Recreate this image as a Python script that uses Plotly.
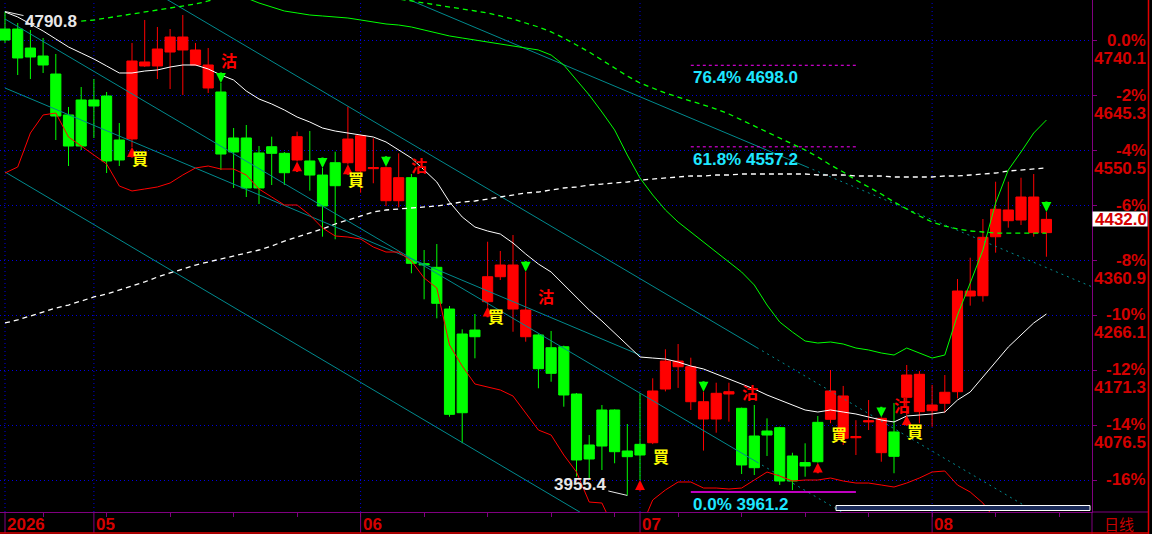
import plotly.graph_objects as go

# ---------------- data ----------------
idx = list(range(83))
opens = [4760.6,4760.6,4727.8,4714.0,4682.9,4612.2,4638.1,4638.1,4645.0,4569.0,
         4570.8,4696.8,4696.8,4720.9,4724.4,4698.5,4658.8,4651.9,4572.5,4572.5,
         4546.6,4557.4,4546.0,4534.5,4532.8,4508.5,4529.8,4529.8,4515.5,4519.5,
         4464.2,4464.2,4504.0,4355.5,4349.2,4277.2,4234.1,4240.9,4289.9,4333.0,
         4277.2,4229.4,4232.4,4210.4,4212.1,4130.5,4042.5,4102.9,4102.9,4032.1,
         4043.6,4046.4,4139.1,4177.6,4117.2,4087.3,4087.3,4130.5,4105.8,4058.0,
         4066.6,4072.4,4023.5,4012.1,4081.6,4086.8,4054.0,4055.0,4082.3,4029.2,
         4065.0,4124.8,4100.0,4101.7,4114.5,4134.5,4299.7,4300.2,4402.0,4429.7,
         4430.9,4409.1,4409.1]
highs = [4790.8,4771.0,4758.9,4745.1,4717.5,4626.0,4660.5,4674.3,4651.9,4598.3,
         4736.5,4776.2,4764.1,4760.6,4784.8,4736.5,4727.8,4667.4,4589.7,4594.9,
         4558.6,4574.7,4548.3,4583.4,4584.5,4520.7,4548.8,4626.5,4578.0,4571.9,
         4523.0,4546.0,4510.3,4379.1,4389.4,4282.4,4242.2,4268.6,4393.4,4377.4,
         4405.0,4341.6,4234.0,4239.3,4214.0,4132.2,4059.7,4111.5,4104.0,4078.7,
         4131.7,4157.6,4207.7,4216.8,4193.2,4134.5,4150.0,4150.0,4107.0,4111.5,
         4088.5,4074.0,4029.1,4045.4,4092.5,4171.9,4144.4,4085.3,4120.1,4090.2,
         4115.0,4180.6,4170.1,4146.2,4163.3,4329.0,4365.8,4432.6,4497.0,4497.0,
         4503.9,4510.3,4444.7]
lows = [4736.5,4681.2,4674.3,4684.7,4569.0,4524.1,4551.7,4572.5,4512.0,4524.1,
        4556.9,4695.1,4674.3,4657.0,4646.7,4696.8,4650.2,4517.2,4486.2,4470.6,
        4458.5,4491.3,4491.3,4532.0,4481.5,4402.1,4397.6,4527.0,4478.0,4494.3,
        4455.0,4452.8,4338.9,4294.0,4261.2,4091.3,4045.5,4192.1,4281.2,4327.3,
        4238.0,4220.8,4140.4,4151.7,4108.6,3988.0,3985.4,3999.3,4010.9,3955.4,
        3982.0,4044.0,4135.0,4141.0,4102.9,4032.8,4063.7,4082.7,3992.4,3990.6,
        4023.5,3973.4,3964.7,3987.7,4012.0,4080.0,4042.4,4025.2,4068.3,4013.6,
        3993.7,4094.0,4080.0,4074.0,4098.2,4123.0,4283.0,4289.9,4374.5,4417.6,
        4422.3,4402.1,4367.5]
closes = [4741.6,4710.6,4712.3,4698.5,4610.4,4558.6,4558.6,4627.7,4532.8,4534.5,
          4705.4,4703.7,4726.1,4746.8,4746.8,4724.4,4698.5,4544.8,4548.3,4486.2,
          4486.2,4546.0,4512.5,4574.7,4508.5,4455.1,4490.1,4570.7,4576.4,4521.5,
          4521.2,4504.0,4356.1,4353.5,4287.1,4095.4,4098.2,4229.4,4333.0,4353.2,
          4353.2,4275.5,4174.2,4166.2,4128.8,4016.6,4018.3,4040.7,4030.9,4022.3,
          4025.2,4135.7,4187.4,4187.4,4177.6,4117.2,4131.7,4134.5,4008.0,4003.3,
          4059.7,3980.3,3980.3,4006.2,4013.6,4135.7,4127.1,4057.0,4084.3,4088.5,
          4022.9,4163.3,4164.5,4111.5,4133.5,4308.3,4308.3,4401.0,4449.4,4448.2,
          4470.6,4470.6,4432.0]

ma_short = [4790.0,4781.4,4769.3,4757.2,4743.4,4729.6,4719.2,4708.8,4696.8,4684.7,
            4684.7,4688.1,4689.9,4695.0,4698.5,4698.5,4691.6,4681.2,4672.6,4653.6,
            4639.8,4631.2,4620.8,4608.7,4600.1,4589.7,4584.5,4581.1,4577.6,4574.2,
            4565.6,4551.7,4537.9,4517.2,4496.5,4462.0,4436.1,4418.8,4411.9,4406.7,
            4391.2,4372.2,4354.9,4341.1,4318.7,4296.2,4275.5,4256.5,4235.8,4215.1,
            4194.4,4192.6,4190.9,4185.7,4178.8,4173.7,4165.0,4156.4,4147.8,4139.1,
            4128.8,4120.1,4111.5,4102.9,4099.4,4102.9,4099.4,4096.0,4090.8,4085.6,
            4082.2,4092.5,4094.2,4096.0,4099.4,4120.1,4134.0,4159.8,4185.7,4211.6,
            4232.4,4253.1,4268.6]
lower_band = [4512.0,4522.4,4581.1,4612.2,4615.6,4574.2,4558.6,4543.1,4527.6,4489.6,
              4481.0,4484.4,4487.9,4494.8,4508.6,4520.7,4524.1,4518.9,4518.9,4508.6,
              4484.4,4470.6,4456.8,4456.8,4439.5,4417.1,4403.3,4401.5,4398.1,4384.3,
              4375.6,4375.6,4360.1,4330.8,4313.5,4215.1,4178.8,4147.8,4142.6,4137.4,
              4127.0,4097.7,4068.3,4059.7,4025.2,3995.8,3944.0,3942.3,3895.7,3878.4,
              3895.7,3947.5,3964.8,3978.6,3978.6,3968.2,3968.2,3966.5,3968.2,3982.0,
              3995.8,3988.9,3980.3,3982.0,3982.0,3985.5,3980.3,3976.8,3976.8,3973.4,
              3969.9,3976.8,3985.5,3995.8,3997.6,3973.4,3961.3,3942.3,3913.0,3895.7,
              3878.4,3869.8,3861.2]
upper_band = [4974.7,4966.1,4957.4,4948.8,4940.2,4931.5,4922.9,4914.3,4905.7,4897.0,
              4888.4,4879.8,4871.1,4862.5,4853.9,4845.2,4836.7,4828.0,4821.1,4814.2,
              4805.5,4798.6,4791.7,4788.3,4784.8,4783.1,4781.3,4779.6,4776.2,4772.7,
              4769.3,4767.5,4764.1,4758.9,4753.7,4748.6,4745.1,4741.6,4738.2,4734.7,
              4731.3,4727.8,4724.4,4715.7,4698.5,4672.6,4646.7,4617.3,4586.3,4543.1,
              4503.4,4474.1,4448.2,4427.4,4410.2,4392.9,4375.6,4358.4,4341.1,4318.7,
              4284.1,4254.8,4237.5,4222.0,4218.5,4220.3,4216.8,4209.9,4206.5,4201.3,
              4197.8,4209.9,4201.3,4192.6,4197.8,4266.9,4322.1,4379.1,4460.2,4517.2,
              4548.3,4581.1,4603.5]
ma_long = [4253.1,4258.3,4265.2,4272.1,4279.0,4284.1,4291.1,4298.0,4303.1,4310.0,
           4316.9,4323.9,4332.5,4339.4,4346.3,4353.2,4358.4,4363.6,4368.7,4373.9,
           4379.1,4386.0,4394.6,4401.5,4408.4,4415.4,4424.0,4430.9,4437.8,4444.7,
           4448.2,4449.9,4451.6,4453.3,4455.1,4458.5,4462.0,4463.7,4467.1,4470.6,
           4474.1,4477.5,4479.2,4482.7,4486.1,4487.9,4491.3,4493.0,4494.8,4496.5,
           4499.9,4501.7,4503.4,4505.1,4506.9,4506.9,4508.6,4508.6,4510.3,4510.3,
           4510.3,4510.3,4510.3,4510.3,4508.6,4508.6,4508.6,4506.9,4506.9,4506.9,
           4505.1,4505.1,4505.1,4505.1,4506.9,4506.9,4508.6,4510.3,4512.0,4515.5,
           4517.2,4518.9,4520.7]
upper_dash = [None,None,None,None,None,None,4774.4,4776.2,4779.6,4783.1,
              4786.5,4790.0,4793.4,4796.9,4800.3,4803.8,4809.0,4815.9,4822.8,4828.0,
              4831.4,4831.4,4831.4,4831.4,4831.4,4831.4,4831.4,4831.4,4828.0,4822.8,
              4817.6,4812.4,4809.0,4805.5,4802.1,4798.6,4795.2,4791.7,4788.3,4783.1,
              4777.9,4771.0,4764.1,4755.5,4745.1,4733.0,4720.9,4707.1,4693.3,4679.5,
              4667.4,4658.8,4650.2,4643.2,4636.3,4629.4,4622.5,4613.9,4603.5,4593.2,
              4582.8,4572.5,4562.1,4551.7,4539.7,4525.8,4513.8,4499.9,4487.9,4475.8,
              4462.0,4449.9,4437.8,4427.4,4420.5,4415.4,4411.9,4410.2,4408.4,4408.4,
              4408.4,4408.4,4408.4]

# trend channel lines: solid segment (x0,p0)->(x1,p1), optional dotted ray to x_ext
tl_x0 = [25, 0, 0, 0, 0]
tl_p0 = [4874.1, 4658.8, 4513.8, 4976.7, 4777.9]
tl_x1 = [63.15, 50, 50, 59.2, 59.2]
tl_p1 = [4522.4, 4197.8, 3865.2, 4210.6, 4013.1]
tl_ext = [86, None, None, 86, 80]

# Fibonacci levels
fib_text = ["76.4%", "61.8%", "0.0%"]
fib_price = [4698.0, 4557.2, 3961.2]
fib_dash = ["3px,3px", "3px,3px", "solid"]
fib_x = [54, 67]

# signals
buy_arrow_idx = [10, 23, 27, 38, 50, 64, 71]
sell_arrow_idx = [17, 25, 30, 41, 55, 69, 82]
buy_label_idx = [10, 27, 38, 51, 65, 71]
buy_label_price = [4538.0, 4501.7, 4265.2, 4023.5, 4061.4, 4066.6]
sell_label_idx = [17, 32, 42, 58, 70]
sell_label_price = [4707.1, 4525.8, 4299.7, 4133.9, 4111.5]

# axes
month_idx = [0, 7, 28, 50, 73]
month_text = ["2026", "05", "06", "07", "08"]
week_ticks = list(range(3, 86, 5))
grid_pct = ["0.0%", "-2%", "-4%", "-6%", "-8%", "-10%", "-12%", "-14%", "-16%"]
grid_price = [4740.1, 4645.3, 4550.5, 4455.7, 4360.9, 4266.1, 4171.3, 4076.5, 3981.7]
price_label_shown = [True, True, True, False, True, True, True, True, False]
last_price = 4432.0
hi_label = (0, 4790.8)
lo_label = (49, 3955.4)

# ---------------- styles ----------------
RED = "#ff0000"
GRN = "#00ff00"
PURPLE = "#800080"
AXRED = "#d40000"
TEAL = "#008a8e"
NUMFONT = "Liberation Sans"
XR = [-0.394, 85.59]
YR = [3926.8, 4810.7]
PW = 1092.0
PH = 512.0

fig = go.Figure()

fig.add_trace(go.Candlestick(
    x=idx, open=opens, high=highs, low=lows, close=closes,
    increasing=dict(line=dict(color=RED, width=1), fillcolor=RED),
    decreasing=dict(line=dict(color=GRN, width=1), fillcolor=GRN),
    whiskerwidth=0, hoverinfo="skip", showlegend=False))

# trend channel lines
for x0, p0, x1, p1, xe in zip(tl_x0, tl_p0, tl_x1, tl_p1, tl_ext):
    fig.add_trace(go.Scatter(x=[x0, x1], y=[p0, p1], mode="lines",
                             line=dict(color=TEAL, width=1), hoverinfo="skip", showlegend=False))
    if xe is not None:
        slope = (p1 - p0) / (x1 - x0)
        fig.add_trace(go.Scatter(x=[x1, xe], y=[p1, p1 + slope * (xe - x1)], mode="lines",
                                 line=dict(color=TEAL, width=1, dash="2px,4px"),
                                 hoverinfo="skip", showlegend=False))

fig.add_trace(go.Scatter(x=idx, y=ma_long, mode="lines",
                         line=dict(color="#ffffff", width=1.3, dash="5px,4px"),
                         hoverinfo="skip", showlegend=False))
fig.add_trace(go.Scatter(x=idx, y=upper_dash, mode="lines",
                         line=dict(color=GRN, width=1.3, dash="5px,4px"),
                         hoverinfo="skip", showlegend=False))
fig.add_trace(go.Scatter(x=idx, y=upper_band, mode="lines",
                         line=dict(color=GRN, width=1), hoverinfo="skip", showlegend=False))
fig.add_trace(go.Scatter(x=idx, y=lower_band, mode="lines",
                         line=dict(color=RED, width=1), hoverinfo="skip", showlegend=False))
fig.add_trace(go.Scatter(x=idx, y=ma_short, mode="lines",
                         line=dict(color="#ffffff", width=1), hoverinfo="skip", showlegend=False))

for fp, fd in zip(fib_price, fib_dash):
    fig.add_trace(go.Scatter(x=fib_x, y=[fp, fp], mode="lines",
                             line=dict(color="#ff00ff", width=1.5 if fd == "solid" else 1, dash=fd),
                             hoverinfo="skip", showlegend=False))

ann = []
shapes = []

# fib labels
for ft, fp in zip(fib_text, fib_price):
    ann.append(dict(x=fib_x[0], y=fp, xref="x", yref="y", text=f"{ft} {fp:.1f}",
                    showarrow=False, xanchor="left", yanchor="top", yshift=-1,
                    font=dict(family=NUMFONT, size=17, color="#1ee6ff", weight="bold")))

# signal arrows
for i in buy_arrow_idx:
    ann.append(dict(x=i, y=lows[i], xref="x", yref="y", text="", showarrow=True,
                    ax=0, ay=12, arrowhead=2, arrowsize=0.9, arrowwidth=2.2,
                    arrowcolor=RED, standoff=0))
for i in sell_arrow_idx:
    ann.append(dict(x=i, y=highs[i], xref="x", yref="y", text="", showarrow=True,
                    ax=0, ay=-12, arrowhead=2, arrowsize=0.9, arrowwidth=2.2,
                    arrowcolor=GRN, standoff=0))
for i, p in zip(buy_label_idx, buy_label_price):
    ann.append(dict(x=i, y=p, xref="x", yref="y", text="買", showarrow=False, xshift=8,
                    font=dict(family="Noto Sans CJK TC", size=16, color="#ffff00", weight="bold")))
for i, p in zip(sell_label_idx, sell_label_price):
    ann.append(dict(x=i, y=p, xref="x", yref="y", text="沽", showarrow=False, xshift=8,
                    font=dict(family="Noto Sans CJK TC", size=16, color=RED, weight="bold")))

# high / low labels
ann.append(dict(x=hi_label[0], y=hi_label[1], xref="x", yref="y", text=f"{hi_label[1]:.1f}",
                showarrow=True, ax=46, ay=10, arrowhead=0, arrowwidth=1, arrowcolor="#e8e8e8",
                font=dict(family=NUMFONT, size=17, color="#e8e8e8", weight="bold")))
ann.append(dict(x=lo_label[0], y=lo_label[1], xref="x", yref="y", text=f"{lo_label[1]:.1f}",
                showarrow=True, ax=-47, ay=-11, arrowhead=0, arrowwidth=1, arrowcolor="#e8e8e8",
                font=dict(family=NUMFONT, size=17, color="#e8e8e8", weight="bold")))

# right axis labels
xr_lab = 1148.0 / PW
for pt, pp, show in zip(grid_pct, grid_price, price_label_shown):
    ann.append(dict(x=xr_lab, y=pp, xref="paper", yref="y", text=pt, showarrow=False,
                    xanchor="right", yanchor="middle", height=14, yshift=1,
                    font=dict(family=NUMFONT, size=17, color=AXRED, weight="bold")))
    if show:
        ann.append(dict(x=xr_lab, y=pp, xref="paper", yref="y", text=f"{pp:.1f}", showarrow=False,
                        xanchor="right", yanchor="middle", yshift=-17, height=14,
                        font=dict(family=NUMFONT, size=17, color=AXRED, weight="bold")))
# last price box
ann.append(dict(x=1.0, y=last_price, xref="paper", yref="y", text=f"{last_price:.1f}",
                showarrow=False, xanchor="left", yanchor="middle", width=54, height=14,
                align="right", valign="middle", bgcolor="#ffffff", borderpad=0,
                font=dict(family=NUMFONT, size=17, color=AXRED, weight="bold")))

# month labels + separators + vertical grid
ylab = (PH - 524) / PH
for mi, mt in zip(month_idx, month_text):
    ann.append(dict(x=mi, y=ylab, xref="x", yref="paper", text=mt, showarrow=False,
                    xanchor="left", yanchor="middle", xshift=0, height=18,
                    font=dict(family=NUMFONT, size=17, color=AXRED, weight="bold")))
    shapes.append(dict(type="line", xref="x", yref="paper", x0=mi, x1=mi, y0=0, y1=-21 / PH,
                       line=dict(color=PURPLE, width=1)))
    shapes.append(dict(type="line", xref="x", yref="paper", x0=mi, x1=mi, y0=0, y1=1,
                       line=dict(color="#0000e0", width=1, dash="1px,3px"), layer="below"))
ann.append(dict(x=1119 / PW, y=(PH - 523) / PH, xref="paper", yref="paper", text="日线",
                showarrow=False, xanchor="center", yanchor="middle", height=18,
                font=dict(family="Noto Sans CJK SC", size=15, color="#c80000")))

# frame
shapes.append(dict(type="line", xref="paper", yref="paper", x0=1, x1=1, y0=0, y1=-22 / PH,
                   line=dict(color=PURPLE, width=1)))
shapes.append(dict(type="line", xref="paper", yref="paper", x0=1, x1=1148 / PW, y0=0, y1=0,
                   line=dict(color=PURPLE, width=1)))
shapes.append(dict(type="line", xref="paper", yref="paper", x0=1148.5 / PW, x1=1148.5 / PW,
                   y0=-22 / PH, y1=1, line=dict(color="#e00000", width=1.5)))
shapes.append(dict(type="line", xref="paper", yref="paper", x0=0, x1=1149 / PW,
                   y0=-21 / PH, y1=-21 / PH, line=dict(color="#e00000", width=1.5)))
# scrollbar
shapes.append(dict(type="rect", xref="paper", yref="paper", x0=836 / PW, x1=1090 / PW,
                   y0=1.5 / PH, y1=6.5 / PH, line=dict(color="#ffffff", width=1),
                   fillcolor="#1a2a58"))

fig.update_layout(
    width=1152, height=534,
    margin=dict(l=0, r=60, t=0, b=22),
    paper_bgcolor="#000000", plot_bgcolor="#000000",
    showlegend=False, hovermode=False,
    boxgap=0.2, boxgroupgap=0,
    annotations=ann, shapes=shapes,
    xaxis=dict(range=XR, rangeslider=dict(visible=False), showgrid=False, zeroline=False,
               tickvals=week_ticks, ticks="outside", ticklen=4, tickcolor=PURPLE,
               showticklabels=False, showline=True, linecolor=PURPLE, linewidth=1),
    yaxis=dict(range=YR, side="right", showgrid=True, gridcolor="#0000e0", griddash="1px,3px",
               gridwidth=1, zeroline=False, tickvals=grid_price, ticks="outside", ticklen=4,
               tickcolor=PURPLE, showticklabels=False, showline=True, linecolor=PURPLE,
               linewidth=1),
)

fig.write_html("out.html", config={"displayModeBar": False},
               post_script="document.body.style.margin='0';document.body.style.background='#000';")
